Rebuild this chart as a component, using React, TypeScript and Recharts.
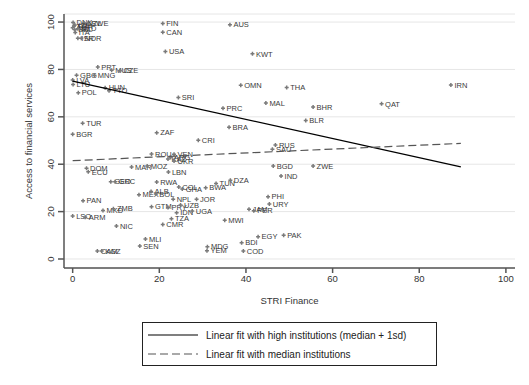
import React from 'react';
import { ScatterChart, Scatter, XAxis, YAxis, CartesianGrid } from 'recharts';

const countries = [
  'DNK', 'NZL', 'SWE', 'ISL', 'FRA', 'AUT', 'BEL', 'NLD', 'ITA', 'ISR', 'NOR',
  'FIN', 'CAN', 'USA', 'AUS', 'KWT', 'PRT', 'MUS', 'CZE', 'GBG', 'MNG', 'LVA', 'LTU',
  'POL', 'HUN', 'TTO', 'SRI', 'TUR', 'OMN', 'THA', 'MAL', 'PRC', 'BHR', 'BLR', 'BRA',
  'QAT', 'IRN', 'BGR', 'ZAF', 'CRI', 'ROU', 'VEN', 'KAZ', 'ARG', 'UKR', 'MAR', 'MOZ',
  'LBN', 'DOM', 'ECU', 'GEO', 'GRC', 'RWA', 'COL', 'GHA', 'BWA', 'TUN', 'DZA', 'MEX',
  'ALB', 'BOL', 'PAN', 'NPL', 'JOR', 'GTM', 'PRY', 'UZB', 'IDN', 'UGA', 'TZA', 'CMR',
  'MWI', 'LSO', 'ARM', 'MKD', 'ZMB', 'NIC', 'MLI', 'SEN', 'CAM', 'KGZ', 'RUS', 'SAU',
  'BGD', 'ZWE', 'IND', 'PHI', 'URY', 'JAM', 'PER', 'EGY', 'PAK', 'BDI', 'COD', 'MDG', 'YEM',
];

const striFinance = [
  0.1, 2.6, 3.5, 0.5, 0.3, 0.0, 0.5, 1.2, 0.6, 1.2, 2.0,
  20.8, 20.8, 21.4, 36.3, 41.5, 5.8, 9.0, 10.9, 0.9, 5.0, 0.0, 0.1,
  1.3, 7.5, 8.4, 24.4, 2.3, 38.8, 49.4, 44.6, 34.7, 55.5, 53.8, 36.1,
  71.3, 87.3, 0.0, 19.4, 29.0, 18.2, 23.4, 22.0, 22.6, 23.4, 13.6, 17.2,
  22.1, 3.2, 3.6, 8.8, 9.8, 19.4, 24.5, 25.3, 30.7, 33.1, 36.4, 15.3,
  18.1, 19.2, 2.4, 23.2, 28.6, 18.2, 22.0, 24.9, 24.0, 27.6, 22.8, 20.8,
  35.1, 0.0, 2.9, 7.0, 9.4, 10.1, 16.8, 15.5, 5.7, 6.7, 46.8, 46.1,
  46.3, 55.5, 48.1, 45.1, 45.4, 40.7, 41.8, 42.8, 48.7, 39.0, 39.4, 31.1, 31.0,
];

const accessFinancial = [
  99.8, 99.6, 99.4, 98.8, 98.3, 97.6, 96.8, 97.2, 95.6, 93.2, 93.2,
  99.4, 95.7, 87.6, 98.9, 86.6, 81.0, 79.7, 79.5, 77.6, 77.6, 75.5, 73.6,
  70.2, 72.3, 71.0, 68.2, 57.3, 73.3, 72.4, 65.8, 63.6, 64.1, 58.5, 55.6,
  65.5, 73.4, 52.6, 53.3, 50.1, 44.3, 44.2, 42.2, 42.8, 41.4, 38.8, 39.2,
  36.7, 38.3, 36.8, 32.6, 32.6, 32.5, 30.4, 29.5, 30.1, 31.9, 33.2, 27.1,
  28.5, 27.4, 24.6, 25.2, 25.2, 22.1, 21.7, 22.8, 19.5, 20.3, 17.0, 14.6,
  16.4, 18.1, 17.6, 20.5, 21.2, 13.9, 8.4, 5.5, 3.4, 3.4, 48.1, 46.3,
  39.2, 39.2, 35.0, 26.3, 23.2, 21.0, 20.4, 9.4, 10.0, 6.9, 3.4, 5.2, 3.5,
];

const fitHighX = [0, 89.6];
const fitHighY = [75.1, 38.9];
const fitMedianX = [0, 89.6];
const fitMedianY = [41.5, 48.8];

const xTicks = [0, 20, 40, 60, 80, 100];
const yTicks = [0, 20, 40, 60, 80, 100];
const xTitle = 'STRI Finance';
const yTitle = 'Access to financial services';
const legendLabels = [
  'Linear fit with high institutions (median + 1sd)',
  'Linear fit with median institutions',
];

const FONT = '"Liberation Sans", Arial, sans-serif';

const points = countries.map((name, i) => ({ name, x: striFinance[i], y: accessFinancial[i] }));
const highFit = fitHighX.map((x, i) => ({ x, y: fitHighY[i] }));
const medianFit = fitMedianX.map((x, i) => ({ x, y: fitMedianY[i] }));

const PointShape = (props: any) => {
  const { cx, cy, payload } = props;
  return (
    <g>
      <path
        d={`M${cx - 2},${cy}L${cx + 2},${cy}M${cx},${cy - 2}L${cx},${cy + 2}`}
        stroke="#7a7a7a"
        strokeWidth={1.5}
      />
      <text x={cx + 3.5} y={cy + 2.7} fontSize={7.5} fill="#3a3a3a" fontFamily={FONT}>
        {payload.name}
      </text>
    </g>
  );
};

const NoShape = () => <g />;

const YTick = (props: any) => {
  const { x, y, payload } = props;
  return (
    <text
      x={x}
      y={y}
      transform={`rotate(-90 ${x} ${y})`}
      textAnchor="middle"
      fontSize={9.5}
      fill="#333"
      fontFamily={FONT}
    >
      {payload.value}
    </text>
  );
};

const XTitle = (props: any) => {
  const vb = props.viewBox;
  return (
    <text x={vb.x + vb.width / 2} y={vb.y + 36} textAnchor="middle" fontSize={9.5} fill="#333" fontFamily={FONT}>
      {xTitle}
    </text>
  );
};

const YTitle = (props: any) => {
  const vb = props.viewBox;
  const cx = 32;
  const cy = vb.y + vb.height / 2;
  return (
    <text x={cx} y={cy} transform={`rotate(-90 ${cx} ${cy})`} textAnchor="middle" fontSize={9.5} fill="#333" fontFamily={FONT}>
      {yTitle}
    </text>
  );
};

export default function App() {
  return (
    <div style={{ position: 'absolute', left: 0, top: 0, width: 529, height: 385, background: '#fff' }}>
      <ScatterChart width={529} height={385} margin={{ top: 14, right: 14, bottom: 87, left: 0 }}>
        <CartesianGrid horizontal vertical={false} stroke="#e6e6e6" strokeWidth={1} />
        <XAxis
          type="number"
          dataKey="x"
          domain={[-2, 102.1]}
          ticks={xTicks}
          allowDataOverflow
          height={30}
          tickSize={5}
          tickMargin={2}
          stroke="#555"
          strokeWidth={1.5}
          tick={{ fontSize: 9.5, fill: '#333', fontFamily: FONT }}
          label={<XTitle />}
        />
        <YAxis
          type="number"
          dataKey="y"
          domain={[-3.8, 103.4]}
          ticks={yTicks}
          allowDataOverflow
          width={64}
          tickSize={6}
          tickMargin={4}
          stroke="#555"
          strokeWidth={1.5}
          tick={<YTick />}
          label={<YTitle />}
        />
        <Scatter data={points} shape={<PointShape />} isAnimationActive={false} />
        <Scatter
          data={highFit}
          shape={<NoShape />}
          line={{ stroke: '#000', strokeWidth: 1.2 }}
          lineType="joint"
          isAnimationActive={false}
        />
        <Scatter
          data={medianFit}
          shape={<NoShape />}
          line={{ stroke: '#555', strokeWidth: 1.2, strokeDasharray: '8 4' }}
          lineType="joint"
          isAnimationActive={false}
        />
      </ScatterChart>
      <div
        style={{
          position: 'absolute',
          left: 142,
          top: 322,
          width: 295,
          height: 44,
          border: '1.5px solid #222',
          boxSizing: 'border-box',
          background: '#fff',
        }}
      >
        <svg width={292} height={41} style={{ display: 'block' }}>
          <line x1={5} y1={12} x2={55} y2={12} stroke="#000" strokeWidth={1.2} />
          <line x1={5} y1={31} x2={55} y2={31} stroke="#555" strokeWidth={1.2} strokeDasharray="8 4" />
          <text x={63} y={15.5} fontSize={10} fill="#222" fontFamily={FONT}>{legendLabels[0]}</text>
          <text x={63} y={34.5} fontSize={10} fill="#222" fontFamily={FONT}>{legendLabels[1]}</text>
        </svg>
      </div>
    </div>
  );
}
